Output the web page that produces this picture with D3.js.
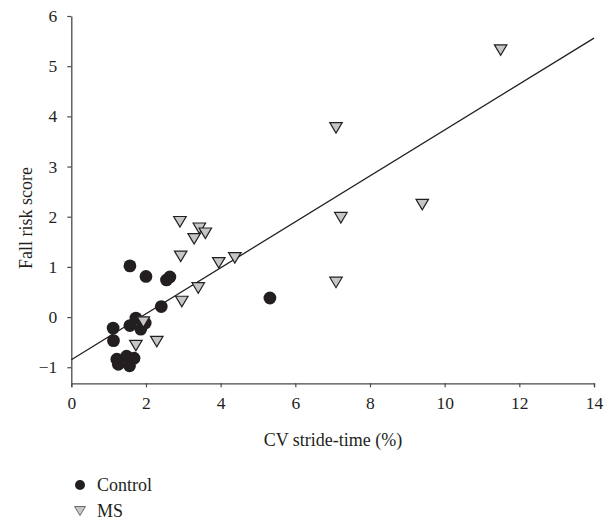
<!DOCTYPE html>
<html>
<head>
<meta charset="utf-8">
<script src="https://cdn.jsdelivr.net/npm/d3@7"></script>
<style>
  body { margin: 0; background: #fff; }
  text { font-family: "Liberation Serif", "DejaVu Serif", serif; fill: #231f20; }
</style>
</head>
<body>
<div id="chart"></div>
<script>
// control group (x = CV stride-time %, y = fall risk score)
const controlX = [1.57, 2.0, 2.55, 2.64, 2.41, 5.32, 1.73, 1.57, 1.86, 1.98, 1.12, 1.13, 1.22, 1.26, 1.48, 1.68, 1.56];
const controlY = [1.02, 0.81, 0.74, 0.80, 0.21, 0.38, -0.02, -0.17, -0.24, -0.12, -0.22, -0.47, -0.84, -0.94, -0.78, -0.82, -0.97];

// MS group
const msX = [11.5, 7.09, 7.22, 9.40, 7.09, 2.91, 3.43, 3.59, 3.29, 2.93, 3.95, 4.38, 3.40, 2.96, 1.93, 2.29, 1.73];
const msY = [5.32, 3.77, 1.98, 2.24, 0.69, 1.90, 1.77, 1.67, 1.56, 1.21, 1.08, 1.18, 0.58, 0.31, -0.10, -0.49, -0.57];

// regression line endpoints
const fitX = [0, 14];
const fitY = [-0.85, 5.56];

const xTicks = [0, 2, 4, 6, 8, 10, 12, 14];
const yTicks = [-1, 0, 1, 2, 3, 4, 5, 6];
const legendLabels = ["Control", "MS"];

const width = 613, height = 527;

const svg = d3
  .select("#chart")
  .append("svg")
  .attr("width", width)
  .attr("height", height);

const x = d3.scaleLinear().domain([0, 14]).range([71.3, 594]);
const y = d3.scaleLinear().domain([-1.32, 6]).range([383.3, 16]);

const axisColor = "#4a4a4a";

// x axis
const xAxis = svg
  .append("g")
  .attr("transform", `translate(0,${y(-1.32)})`)
  .call(d3.axisBottom(x).tickValues(xTicks).tickSize(4).tickSizeOuter(4).tickPadding(7));

// y axis
const yAxis = svg
  .append("g")
  .attr("transform", `translate(${x(0)},0)`)
  .call(d3.axisLeft(y).tickValues(yTicks).tickSize(4).tickSizeOuter(0).tickPadding(10)
    .tickFormat((d) => (d < 0 ? "\u2212" + Math.abs(d) : d)));

[xAxis, yAxis].forEach((ax) => {
  ax.select(".domain").attr("stroke", axisColor).attr("stroke-width", 1.3);
  ax.selectAll(".tick line").attr("stroke", axisColor).attr("stroke-width", 1.2);
  ax.selectAll(".tick text")
    .attr("font-family", "Liberation Serif, DejaVu Serif, serif")
    .attr("font-size", 17.5)
    .attr("fill", "#231f20");
});
xAxis.selectAll(".tick text").attr("dy", "0.85em");

// axis titles
svg.append("text")
  .attr("x", 333)
  .attr("y", 446)
  .attr("text-anchor", "middle")
  .attr("font-size", 18)
  .text("CV stride-time (%)");

svg.append("text")
  .attr("transform", `translate(32,218) rotate(-90)`)
  .attr("text-anchor", "middle")
  .attr("font-size", 18)
  .text("Fall risk score");

// regression line
svg.append("line")
  .attr("x1", x(fitX[0]))
  .attr("y1", y(fitY[0]))
  .attr("x2", x(fitX[1]))
  .attr("y2", y(fitY[1]))
  .attr("stroke", "#231f20")
  .attr("stroke-width", 1.3);

const tri = (w, h) => `M${-w / 2},${-h / 2}L${w / 2},${-h / 2}L0,${h / 2}Z`;

// control points
const controlData = controlX.map((v, i) => ({ x: v, y: controlY[i] }));
svg.selectAll(".control")
  .data(controlData)
  .enter()
  .append("circle")
  .attr("class", "control")
  .attr("cx", (d) => x(d.x))
  .attr("cy", (d) => y(d.y))
  .attr("r", 6.4)
  .attr("fill", "#231f20");

// MS points
const msData = msX.map((v, i) => ({ x: v, y: msY[i] }));
svg.selectAll(".ms")
  .data(msData)
  .enter()
  .append("path")
  .attr("class", "ms")
  .attr("d", tri(12.5, 10.5))
  .attr("transform", (d) => `translate(${x(d.x)},${y(d.y)})`)
  .attr("fill", "#c6c6c6")
  .attr("stroke", "#231f20")
  .attr("stroke-width", 1.2);

// legend
const legend = svg.selectAll(".legend")
  .data(legendLabels)
  .enter()
  .append("g")
  .attr("class", "legend")
  .attr("transform", (d, i) => `translate(80,${485 + i * 26})`);

legend.each(function (d, i) {
  const g = d3.select(this);
  if (i === 0) {
    g.append("circle").attr("r", 5).attr("fill", "#231f20");
  } else {
    g.append("path")
      .attr("d", tri(11, 9))
      .attr("fill", "#c6c6c6")
      .attr("stroke", "#6d6d6d")
      .attr("stroke-width", 1);
  }
  g.append("text")
    .attr("x", 17)
    .attr("y", 6)
    .attr("font-size", 18)
    .text(d);
});
</script>
</body>
</html>
